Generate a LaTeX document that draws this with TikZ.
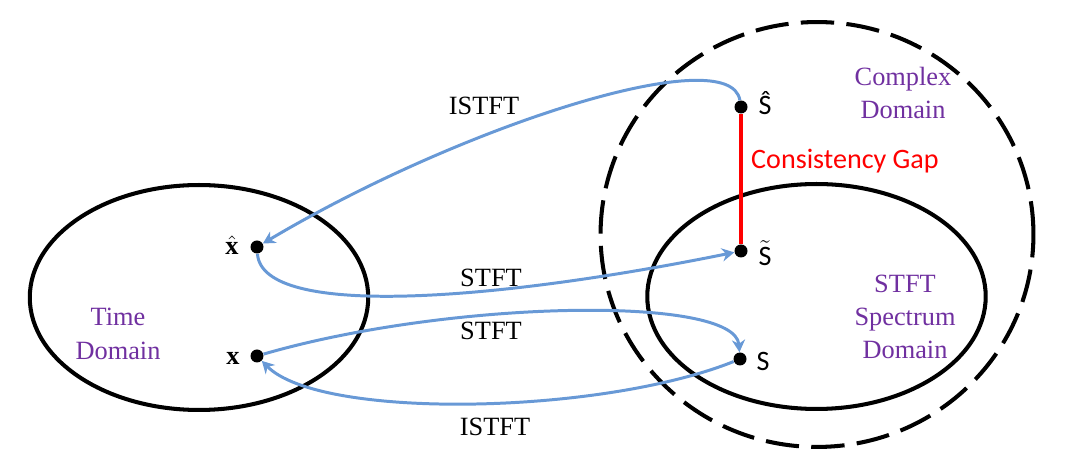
\documentclass[tikz,border=0pt]{standalone}
\usepackage{fontspec}
\setmainfont{Liberation Serif}
\newfontfamily\calfont{Carlito}
\usetikzlibrary{arrows.meta,shapes.geometric}
\definecolor{flowblue}{RGB}{104,153,214}
\definecolor{dompurple}{RGB}{112,48,160}

\begin{document}
\begin{tikzpicture}[
    x=0.02cm, y=-0.02cm,
    font=\fontsize{15}{19}\selectfont,
    domainbox/.style ={draw=black, line width=2.3pt, ellipse, inner sep=0pt, minimum width=6.77cm, minimum height=4.5cm},
    outerbox/.style  ={draw=black, line width=2.3pt, ellipse, inner sep=0pt, dash pattern=on 19pt off 7pt, minimum width=8.66cm, minimum height=8.5cm},
    dot/.style    ={circle, fill=black, inner sep=0pt, minimum size=0.26cm},
    dlabel/.style ={text=dompurple, align=center},
    slabel/.style ={font=\calfont\fontsize{16}{19}\selectfont},
    gaplabel/.style ={text=red, anchor=west, font=\calfont\fontsize{16}{19}\selectfont},
    flow/.style   ={-{Stealth[length=7pt,width=7.5pt]}, line width=1.7pt, flowblue},
  ]
  \useasboundingbox (0,0) rectangle (1066,472);
  % domains
  \node[domainbox] (time-dom)    at (199, 297.5) {};
  \node[domainbox] (stft-dom)    at (816.5, 296.5) {};
  \node[outerbox]  (complex-dom) at (817, 234.5) {};
  \node[dlabel] (time-lbl)    at (118, 334) {Time\\Domain};
  \node[dlabel] (stft-lbl)    at (905, 317) {STFT\\Spectrum\\Domain};
  \node[dlabel] (complex-lbl) at (903, 93)  {Complex\\Domain};
  % signals and spectra
  \node[dot] (xhat)   at (257, 247) {};
  \node[dot] (x)      at (257, 356) {};
  \node[dot] (Shat)   at (741, 107) {};
  \node[dot] (Stilde) at (741, 251) {};
  \node[dot] (S)      at (740, 359) {};
  \node (xhat-lbl)   at (232, 245) {$\hat{\textbf{x}}$};
  \node (x-lbl)      at (233, 358) {\textbf{x}};
  \node[slabel] (Shat-lbl)   at (765, 103) {\^{S}};
  \node[slabel] (Stilde-lbl) at (765, 253) {$\tilde{\mbox{S}}$};
  \node[slabel] (S-lbl)      at (763, 361) {S};
  % consistency gap
  \draw[red, line width=2.3pt] (Shat) -- (Stilde);
  \node[gaplabel] (gap-lbl) at (745, 161) {Consistency Gap};
  % transforms
  \draw[flow] (Shat) .. controls (730,40) and (462,125) .. (xhat);
  \draw[flow] (xhat) .. controls (262,320) and (500,300) .. (Stilde);
  \draw[flow] (x) .. controls (450,300) and (735,295) .. (S);
  \draw[flow] (S) .. controls (600,415) and (320,420) .. (x);
  \node (istft-top) at (484, 106) {ISTFT};
  \node (stft-top)  at (491, 278) {STFT};
  \node (stft-bot)  at (491, 331) {STFT};
  \node (istft-bot) at (495, 427) {ISTFT};
\end{tikzpicture}
\end{document}
